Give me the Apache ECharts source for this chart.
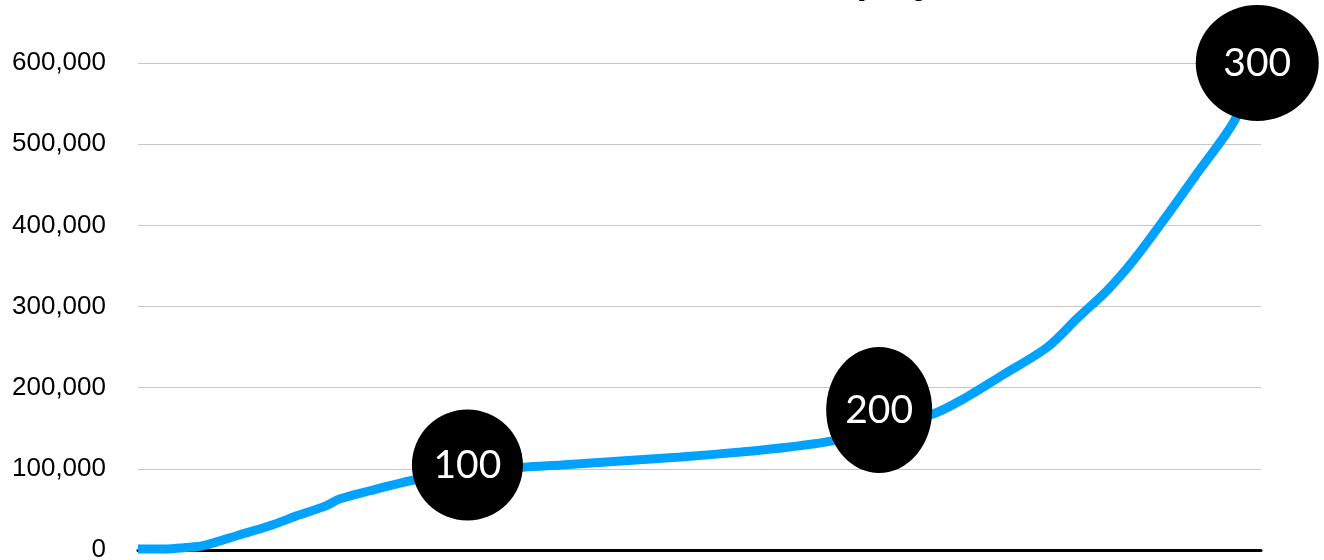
<!DOCTYPE html>
<html>
<head>
<meta charset="utf-8">
<script src="https://cdn.jsdelivr.net/npm/echarts@6/dist/echarts.min.js"></script>
<style>
html,body{margin:0;padding:0;background:#fff;}
#chart{width:1324px;height:560px;}
</style>
</head>
<body>
<div id="chart"></div>
<script>
// Data
var titleText = 'Number of employees';
var days = [0, 6, 11, 17, 21, 27, 35, 43, 50, 54, 62, 70, 81, 103, 113, 129, 145, 161, 174, 186, 212, 220, 231, 243, 251, 259, 266, 274, 283, 293, 299];
var values = [1200, 1200, 2500, 5000, 10000, 18500, 29500, 43000, 54000, 63000, 73000, 82500, 92000, 102000, 104700, 109600, 114600, 120700, 126900, 135000, 167000, 184800, 215600, 250100, 285800, 320300, 357300, 406600, 464500, 529800, 600000];
var milestoneDays = [88, 198, 299];
var milestoneValues = [104700, 172500, 600000];
var milestoneLabels = ['100', '200', '300'];
var yTicks = [0, 100000, 200000, 300000, 400000, 500000, 600000];

// Styles (not data)
var bubbleSizes = [[111, 111], [106, 126], [123, 116]];

var lineData = days.map(function (d, i) { return [d, values[i]]; });
var bubbleData = milestoneDays.map(function (d, i) {
  return {
    value: [d, milestoneValues[i]],
    symbolSize: bubbleSizes[i],
    label: { formatter: milestoneLabels[i] }
  };
});

var chart = echarts.init(document.getElementById('chart'), null, { renderer: 'canvas' });
chart.setOption({
  animation: false,
  backgroundColor: '#ffffff',
  title: {
    text: titleText,
    left: 596,
    top: -41,
    textStyle: { fontFamily: 'Liberation Sans', fontWeight: 'bold', fontSize: 38, color: '#000' }
  },
  grid: { left: 138, right: 63, top: 63, bottom: 10, containLabel: false, outerBoundsMode: 'none' },
  xAxis: {
    type: 'value',
    min: 0,
    max: 300,
    axisLine: { show: true, lineStyle: { color: '#000', width: 3 } },
    axisTick: { show: false },
    axisLabel: { show: false },
    splitLine: { show: false }
  },
  yAxis: {
    type: 'value',
    min: yTicks[0],
    max: yTicks[yTicks.length - 1],
    interval: yTicks[1] - yTicks[0],
    axisLine: { show: false },
    axisTick: { show: false },
    axisLabel: {
      margin: 32,
      fontFamily: 'Liberation Sans',
      fontSize: 26,
      color: '#000',
      padding: [6, 0, 0, 0],
      formatter: function (v) { return v.toLocaleString('en-US'); }
    },
    splitLine: { lineStyle: { color: '#c6c6c6', width: 1 } }
  },
  series: [
    {
      type: 'line',
      data: lineData,
      smooth: 0.3,
      symbol: 'none',
      lineStyle: { color: '#00A2FF', width: 9 },
      z: 3
    },
    {
      type: 'scatter',
      data: bubbleData,
      symbol: 'circle',
      clip: false,
      itemStyle: { color: '#000', opacity: 1 },
      label: {
        show: true,
        position: 'inside',
        color: '#fff',
        fontFamily: 'Lato',
        fontSize: 39
      },
      z: 5
    }
  ]
});
</script>
</body>
</html>
